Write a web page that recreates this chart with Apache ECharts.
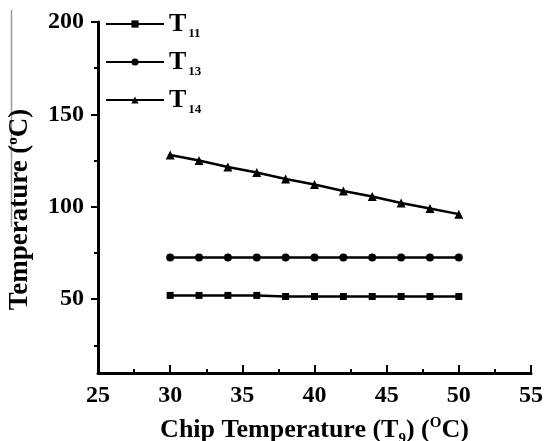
<!DOCTYPE html>
<html>
<head>
<meta charset="utf-8">
<script src="https://cdn.jsdelivr.net/npm/echarts@6/dist/echarts.min.js"></script>
<style>
  html, body { margin: 0; padding: 0; background: #fff; }
  #main { width: 544px; height: 441px; }
</style>
</head>
<body>
<div id="main"></div>
<script>
// chip temperature T9 (°C)
var chipTemp = [30, 32, 34, 36, 38, 40, 42, 44, 46, 48, 50]
// node temperatures (°C)
var t11 = [52, 52, 52, 52, 51.4, 51.4, 51.4, 51.4, 51.4, 51.4, 51.4]
var t13 = [72.5, 72.5, 72.5, 72.5, 72.5, 72.5, 72.5, 72.5, 72.5, 72.5, 72.5]
var t14 = [128, 125, 121.5, 118.5, 115, 112, 108.5, 105.5, 102, 99, 96]

var yMajorTicks = [50, 100, 150, 200]
var yMinorTicks = [25, 75, 125, 175]

var FONT = '"Liberation Serif", "Times New Roman", serif'

function pairs(ys) {
  return chipTemp.map(function (x, i) { return [x, ys[i]] })
}

var chart = echarts.init(document.getElementById('main'))

var option = {
  animation: false,
  textStyle: { fontFamily: FONT, color: '#000' },
  grid: { left: 98, right: 13, top: 22, bottom: 68, outerBoundsMode: 'none' },
  legend: {
    orient: 'vertical',
    left: 100,
    top: 6,
    itemGap: 8.5,
    itemWidth: 58,
    itemHeight: 9,
    data: ['T11', 'T13', 'T14'],
    formatter: function (name) {
      return '{t|T}{s|' + name.slice(1) + '}'
    },
    textStyle: {
      rich: {
        t: { fontFamily: FONT, fontWeight: 'bold', fontSize: 26, color: '#000' },
        s: { fontFamily: FONT, fontWeight: 'bold', fontSize: 13, color: '#000', padding: [20, 0, 0, 2] }
      }
    }
  },
  xAxis: {
    type: 'value',
    min: 25,
    max: 55,
    interval: 5,
    name: 'Chip Temperature (T{sub|9}) ({sup|O}C)',
    nameLocation: 'middle',
    nameGap: 41,
    nameTextStyle: {
      fontFamily: FONT, fontWeight: 'bold', fontSize: 26, color: '#000',
      rich: {
        sub: { fontFamily: FONT, fontWeight: 'bold', fontSize: 15, color: '#000', padding: [18, 0, 0, 0] },
        sup: { fontFamily: FONT, fontWeight: 'bold', fontSize: 15, color: '#000', padding: [0, 0, 14, 0] }
      }
    },
    axisLine: { lineStyle: { color: '#000', width: 3 } },
    axisTick: { inside: true, length: 8, lineStyle: { color: '#000', width: 2 } },
    minorTick: { show: true, splitNumber: 2, length: 4, lineStyle: { color: '#000', width: 2 } },
    axisLabel: { fontFamily: FONT, fontWeight: 'bold', fontSize: 24, color: '#000', margin: 11 },
    splitLine: { show: false }
  },
  yAxis: [{
    type: 'value',
    min: 10,
    max: 200,
    name: 'Temperature ({sup|o}C)',
    nameLocation: 'middle',
    nameRotate: 90,
    nameGap: 63,
    nameTextStyle: {
      fontFamily: FONT, fontWeight: 'bold', fontSize: 27, color: '#000',
      padding: [0, 24, 0, 0],
      rich: {
        sup: { fontFamily: FONT, fontWeight: 'bold', fontSize: 15, color: '#000', padding: [0, 0, 14, 0] }
      }
    },
    axisLine: { show: true, lineStyle: { color: '#000', width: 3 } },
    axisTick: { show: true, length: 7, customValues: yMajorTicks, lineStyle: { color: '#000', width: 2 } },
    axisLabel: { fontFamily: FONT, fontWeight: 'bold', fontSize: 24, color: '#000', margin: 14, customValues: yMajorTicks },
    splitLine: { show: false }
  }, {
    type: 'value',
    position: 'left',
    min: 10,
    max: 200,
    axisLine: { show: false },
    axisTick: { show: true, length: 4, customValues: yMinorTicks, lineStyle: { color: '#000', width: 2 } },
    axisLabel: { show: false },
    splitLine: { show: false }
  }],
  series: [{
    name: 'T11',
    type: 'line',
    data: pairs(t11),
    symbol: 'rect',
    symbolSize: 7,
    itemStyle: { color: '#000' },
    lineStyle: { color: '#000', width: 2.5 }
  }, {
    name: 'T13',
    type: 'line',
    data: pairs(t13),
    symbol: 'circle',
    symbolSize: 8,
    itemStyle: { color: '#000' },
    lineStyle: { color: '#000', width: 2.5 }
  }, {
    name: 'T14',
    type: 'line',
    data: pairs(t14),
    symbol: 'triangle',
    symbolSize: 9,
    itemStyle: { color: '#000' },
    lineStyle: { color: '#000', width: 2.5 }
  }],
  graphic: [{
    // thin grey rule at the far left of the original figure
    type: 'line',
    shape: { x1: 11.5, y1: 10, x2: 11.5, y2: 227 },
    style: { stroke: '#999', lineWidth: 1.5 }
  }]
}

chart.setOption(option)
</script>
</body>
</html>
